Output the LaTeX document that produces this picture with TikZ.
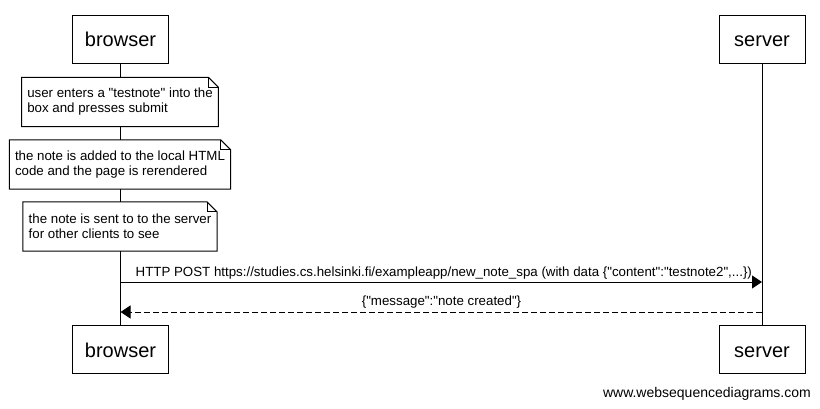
\documentclass[tikz,border=0pt]{standalone}
\usepackage{fontspec}
\setmainfont{Liberation Sans}
\usetikzlibrary{arrows.meta}
\font\plainq="Liberation Sans" at 13.3pt
\newcommand\dq{{\plainq\symbol{34}}}
\newcommand\dogear[1]{%
  \draw[notestroke] (#1.south west) -- (#1.north west) -- ([xshift=-10pt]#1.north east)
    -- ([yshift=-10pt]#1.north east) -- (#1.south east) -- cycle;
  \draw[notestroke] ([xshift=-10pt]#1.north east) -- ([xshift=-10pt,yshift=-10pt]#1.north east)
    -- ([yshift=-10pt]#1.north east);}
\begin{document}
\begin{tikzpicture}[x=1pt,y=-1pt,
  actor/.style={draw,line width=1pt,fill=white,minimum width=96pt,minimum height=48pt,
    inner sep=0pt,text height=15.4pt,text depth=0pt,font=\fontsize{20}{24}\selectfont},
  notebox/.style={fill=white,align=left,inner xsep=5.5pt,inner ysep=0pt,minimum height=49pt,
    font=\fontsize{13.3}{15}\selectfont},
  notestroke/.style={line width=1pt},
  lifeline/.style={line width=1pt},
  msg/.style={line width=1pt,-{Triangle[length=10pt,width=13pt]}},
  reply/.style={msg,dash pattern=on 6pt off 3pt},
  lbl/.style={font=\fontsize{13.3}{15}\selectfont,inner sep=0pt}]
\fill[white] (0,0) rectangle (820,408);
\useasboundingbox (0,0) rectangle (820,408);
% actors
\node[actor] (bt) at (120.5,39) {browser};
\node[actor,minimum width=86pt] (st) at (762,39) {server};
\node[actor] (bb) at (120.5,349.5) {browser};
\node[actor,minimum width=86pt] (sb) at (762,349.5) {server};
% lifelines
\draw[lifeline] (bt.south) -- (bb.north);
\draw[lifeline] (st.south) -- (sb.north);
% notes
\node[notebox] (n1) at (120,102) {user enters a \dq testnote\dq{} into the\\box and presses submit};
\dogear{n1}
\node[notebox] (n2) at (120,164.5) {the note is added to the local HTML\\code and the page is rerendered};
\dogear{n2}
\node[notebox] (n3) at (120,226.5) {the note is sent to to the server\\for other clients to see};
\dogear{n3}
% messages
\coordinate (m1a) at (120.5,282);
\coordinate (m1b) at (762,282);
\coordinate (m2a) at (762,312);
\coordinate (m2b) at (120.5,312);
\draw[msg] (m1a) -- (m1b);
\draw[reply] (m2a) -- (m2b);
\node[lbl,anchor=west] (l1) at (135.5,273) {HTTP POST https://studies.cs.helsinki.fi/exampleapp/new\_note\_spa (with data \{\dq content\dq:\dq testnote2\dq,...\})};
\node[lbl] (l2) at (441.5,302.5) {\{\dq message\dq:\dq note created\dq\}};
% watermark
\node[anchor=east,inner sep=0pt,font=\fontsize{14}{16}\selectfont] (wm) at (811,394) {www.websequencediagrams.com};
\end{tikzpicture}
\end{document}
